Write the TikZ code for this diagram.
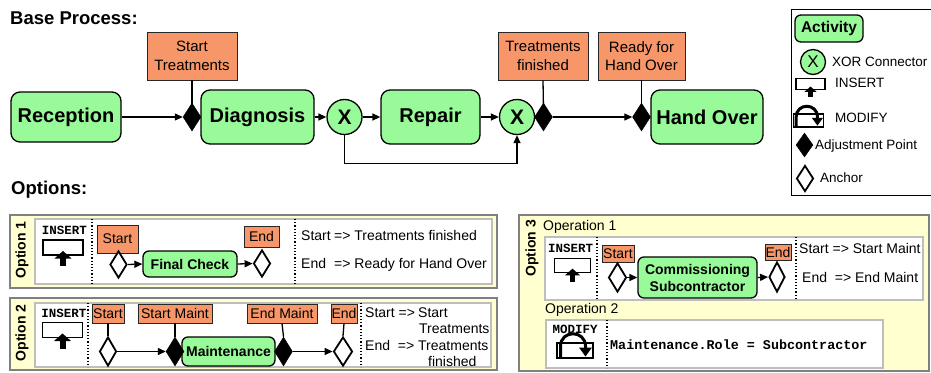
\documentclass[tikz,border=0pt]{standalone}
\usepackage{fontspec}
\setmainfont{Liberation Sans}
\setmonofont{Liberation Mono}
\usetikzlibrary{shapes.geometric,arrows.meta}
\definecolor{actgreen}{RGB}{152,250,152}
\definecolor{evtorange}{RGB}{247,150,104}
\definecolor{optyellow}{RGB}{255,255,208}
\definecolor{optgray}{RGB}{128,128,128}
\definecolor{innergray}{RGB}{190,190,190}
\tikzset{
  act/.style={draw=black, line width=1.3pt, fill=actgreen, rounded corners=9pt, inner sep=0pt, font=\bfseries\fontsize{20}{24}\selectfont},
  sact/.style={act, rounded corners=6pt, align=center, font=\bfseries\fontsize{14}{17}\selectfont},
  evt/.style={draw=black!85, line width=0.9pt, fill=evtorange, inner sep=0pt, align=center, font=\fontsize{15}{18.5}\selectfont},
  sevt/.style={evt, font=\fontsize{14}{16}\selectfont},
  xorc/.style={circle, draw=black, line width=1.3pt, fill=actgreen, inner sep=0pt, minimum size=35pt, font=\bfseries\fontsize{21}{24}\selectfont},
  adjp/.style={diamond, draw=black, fill=black, inner sep=0pt, minimum width=18pt, minimum height=28pt},
  anch/.style={diamond, draw=black, fill=white, line width=1.8pt, inner sep=0pt, minimum width=17pt, minimum height=27pt},
  conn/.style={draw=black, line width=1.3pt},
  optframe/.style={draw=optgray, line width=2.5pt, fill=optyellow},
  innerbox/.style={draw=innergray, line width=1.5pt, fill=white},
  sepline/.style={dotted, line width=1.2pt},
  lbl/.style={font=\fontsize{14}{17}\selectfont, anchor=west, inner sep=0pt},
  leglbl/.style={font=\fontsize{13.5}{16}\selectfont, anchor=west, inner sep=0pt},
  optlbl/.style={rotate=90, font=\bfseries\fontsize{14}{17}\selectfont, inner sep=0pt},
  cmd/.style={font=\ttfamily\bfseries\fontsize{12.5}{14}\selectfont, inner sep=0pt},
  headlbl/.style={font=\bfseries\fontsize{18.5}{22}\selectfont, anchor=west, inner sep=0pt},
  insicon/.pic={
    \draw[line width=1.3pt, fill=white] (-20,-7.5) rectangle (20,7.5);
    \fill (-8.5,11) -- (0,3.5) -- (8.5,11) -- cycle;
    \fill (-3,10.5) rectangle (3,18.5);
  },
  modicon/.pic={
    \draw[line width=1.3pt, fill=white] (-18,-7.5) rectangle (18,7.5);
    \draw[line width=3pt] (-14.5,7) -- (-14.5,-4) .. controls (-14.5,-21) and (10.5,-21) .. (10.5,-4) -- (10.5,-2);
    \fill (4,-3) -- (17,-3) -- (10.5,6) -- cycle;
  }
}
\begin{document}
\begin{tikzpicture}[x=1pt,y=-1pt,>={Triangle[length=8pt,width=7pt]}]
\useasboundingbox (0,0) rectangle (931,372);
\fill[white] (0,0) rectangle (931,372);

% ---------- Base process ----------
\node[headlbl] (basehead) at (10,18) {Base Process:};
\node[act, minimum width=110pt, minimum height=50pt] (reception) at (66,117) {Reception};
\node[act, minimum width=113pt, minimum height=54pt] (diag) at (257.5,117) {Diagnosis};
\node[xorc] (xor1) at (344.5,117) {X};
\node[act, minimum width=99pt, minimum height=54pt] (repair) at (430.5,117) {Repair};
\node[xorc] (xor2) at (517,117) {X};
\node[act, minimum width=112pt, minimum height=54pt] (handover) at (707,117) {Hand Over};
\node[evt, minimum width=90pt, minimum height=48pt] (evt1) at (192,56) {Start\\Treatments};
\node[evt, minimum width=90pt, minimum height=48pt] (evt2) at (543,56) {Treatments\\finished};
\node[evt, minimum width=87pt, minimum height=48pt] (evt3) at (641.5,56) {Ready for\\Hand Over};
\draw[conn] (evt1.south) -- (192,110);
\draw[conn] (evt2.south) -- (543.5,110);
\draw[conn] (evt3.south) -- (641.5,110);
\node[adjp] (adj1) at (192,117) {};
\node[adjp] (adj2) at (543.5,117) {};
\node[adjp] (adj3) at (641.5,117) {};
\draw[conn,->] (reception.east) -- (adj1.west);
\draw[conn,->] (diag.east) -- (xor1.west);
\draw[conn,->] (xor1.east) -- (repair.west);
\draw[conn,->] (repair.east) -- (xor2.west);
\draw[conn,->] (adj2.east) -- (adj3.west);
\draw[conn,->] (xor1.south) -- ++(0,28.5) -| (xor2.south);

% ---------- Legend ----------
\draw[line width=1pt] (791,9) rectangle (945,195);
\node[act, rounded corners=6pt, minimum width=68pt, minimum height=27pt, font=\bfseries\fontsize{15.5}{18}\selectfont] (legact) at (829,28.5) {Activity};
\node[xorc, minimum size=25pt, font=\fontsize{17}{19}\selectfont] (legxor) at (813,62) {X};
\node[leglbl] (legxort) at (832,62) {XOR Connector};
\pic[scale=0.72] (legins) at (810.5,84) {insicon};
\node[leglbl] (leginst) at (835,83) {INSERT};
\pic[scale=0.85] (legmod) at (808.5,120.5) {modicon};
\node[leglbl] (legmodt) at (835,118) {MODIFY};
\node[adjp, minimum width=17pt, minimum height=24pt] (legadj) at (804.5,145) {};
\node[leglbl] (legadjt) at (815,146) {Adjustment Point};
\node[anch, minimum width=17pt, minimum height=26pt] (leganc) at (805,178.5) {};
\node[leglbl] (leganct) at (820,178) {Anchor};

% ---------- Options ----------
\node[headlbl] (opthead) at (11,190) {Options:};

% Option 1
\draw[optframe] (10,215) rectangle (497,288);
\draw[innerbox] (35,219) rectangle (492,284);
\node[optlbl] (o1lbl) at (22,250) {Option 1};
\node[cmd] (o1cmd) at (64.5,230) {INSERT};
\pic (o1ins) at (63,247.5) {insicon};
\draw[sepline] (92,219) -- (92,284);
\draw[sepline] (295,219) -- (295,284);
\node[sevt, minimum width=41pt, minimum height=28pt] (o1s) at (117.5,239) {Start};
\node[sevt, minimum width=35pt, minimum height=21pt] (o1e) at (261.5,236.5) {End};
\node[sact, minimum width=94pt, minimum height=26pt] (o1fc) at (190,264) {Final Check};
\node[anch] (o1a) at (118.5,264.5) {};
\node[anch] (o1b) at (262,263.5) {};
\draw[conn,->] (o1a.east) -- (o1fc.west);
\draw[conn,->] (o1fc.east) -- (o1b.west);
\node[lbl] (o1t1) at (301,235) {\makebox[33pt][l]{Start}=> Treatments finished};
\node[lbl] (o1t2) at (301,265) {\makebox[33pt][l]{End}=> Ready for Hand Over};

% Option 2
\draw[optframe] (10,298) rectangle (497,370);
\draw[innerbox] (35,303) rectangle (491,367);
\node[optlbl] (o2lbl) at (22,333) {Option 2};
\node[cmd] (o2cmd) at (64,313) {INSERT};
\pic (o2ins) at (62.5,330) {insicon};
\draw[sepline] (88,303) -- (88,367);
\draw[sepline] (361,303) -- (361,367);
\node[sevt, minimum width=32pt, minimum height=19pt] (o2s) at (108,313.5) {Start};
\node[sevt, minimum width=74pt, minimum height=19pt] (o2sm) at (175,313.5) {Start Maint};
\node[sevt, minimum width=70pt, minimum height=19pt] (o2em) at (282,313.5) {End Maint};
\node[sevt, minimum width=26pt, minimum height=19pt] (o2e) at (344,313.5) {End};
\node[sact, minimum width=93pt, minimum height=29pt] (o2m) at (228.5,351.5) {Maintenance};
\node[anch, minimum height=29pt] (o2a) at (108,351.5) {};
\node[adjp, minimum height=29pt] (o2j1) at (175,351.5) {};
\node[adjp, minimum height=29pt] (o2j2) at (283.5,351.5) {};
\node[anch, minimum width=19pt, minimum height=29pt] (o2b) at (343,351.5) {};
\draw[conn] (o2s.south) -- (o2a.north);
\draw[conn] (o2sm.south) -- (o2j1.north);
\draw[conn] (o2em.south) -- (o2j2.north);
\draw[conn] (o2e.south) -- (o2b.north);
\draw[conn,->] (o2a.east) -- (o2j1.west);
\draw[conn,->] (o2j2.east) -- (o2b.west);
\node[lbl] (o2t1) at (365,313) {\makebox[53pt][l]{Start =>}Start};
\node[lbl] (o2t2) at (419,329) {Treatments};
\node[lbl] (o2t3) at (365,345) {\makebox[53pt][l]{End\ \ =>}Treatments};
\node[lbl] (o2t4) at (428,361) {finished};

% Option 3
\draw[optframe] (519,215) rectangle (929,371);
\node[optlbl] (o3lbl) at (532,248.5) {Option 3};
\node[lbl] (op1) at (543,227) {Operation 1};
\draw[innerbox] (545,237) rectangle (923,300);
\node[cmd] (o3cmd) at (570.5,248) {INSERT};
\pic[scale=0.9] (o3ins) at (572.5,265.5) {insicon};
\draw[sepline] (597,237) -- (597,300);
\draw[sepline] (796,237) -- (796,300);
\node[sevt, minimum width=32pt, minimum height=17pt] (o3s) at (618,253.5) {Start};
\node[sevt, minimum width=26pt, minimum height=16pt] (o3e) at (778,252) {End};
\node[sact, minimum width=119pt, minimum height=41pt] (o3c) at (697.5,277.5) {Commissioning\\Subcontractor};
\node[anch, minimum width=18pt, minimum height=29pt] (o3a) at (617.5,277.5) {};
\node[anch, minimum width=16pt, minimum height=30pt] (o3b) at (777,277) {};
\draw[conn,->] (o3a.east) -- (o3c.west);
\draw[conn,->] (o3c.east) -- (o3b.west);
\node[lbl] (o3t1) at (799,248) {Start => Start Maint};
\node[lbl] (o3t2) at (802,277) {End\ \ => End Maint};
\node[lbl] (op2) at (545,310) {Operation 2};
\draw[innerbox] (546,320) rectangle (883,368);
\node[cmd] (o3mod) at (575,329) {MODIFY};
\pic (o3modi) at (575,350.5) {modicon};
\draw[sepline] (607,320) -- (607,368);
\node[cmd, anchor=west, font=\ttfamily\bfseries\fontsize{13.4}{15}\selectfont] (o3code) at (610,345) {Maintenance.Role = Subcontractor};
\end{tikzpicture}
\end{document}
